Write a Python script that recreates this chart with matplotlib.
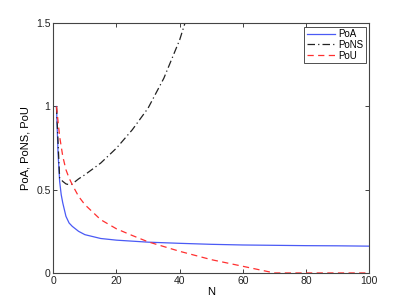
import matplotlib
matplotlib.use("Agg")
import matplotlib.pyplot as plt
from matplotlib.ticker import FixedLocator, FixedFormatter

plt.rcParams['font.family'] = ['Liberation Sans', 'DejaVu Sans']

poa_n = [1, 1.5, 2, 2.5, 3, 4, 5, 6, 8, 10, 15, 20, 30, 40, 50, 60, 70, 80, 90, 100]
poa_v = [1.0, 0.72, 0.55, 0.47, 0.42, 0.34, 0.30, 0.28, 0.25, 0.23, 0.207, 0.197, 0.185, 0.178, 0.172, 0.168, 0.166, 0.164, 0.163, 0.161]

pons_n = [1, 2, 3, 4, 5, 6, 7, 8, 10, 15, 20, 25, 30, 35, 40, 43]
pons_v = [1.0, 0.57, 0.55, 0.535, 0.53, 0.535, 0.55, 0.565, 0.59, 0.66, 0.75, 0.86, 0.99, 1.17, 1.40, 1.58]

pou_n = [1, 2, 3, 4, 5, 6, 8, 10, 15, 20, 25, 30, 40, 50, 60, 70, 80, 90, 100]
pou_v = [1.0, 0.82, 0.70, 0.62, 0.57, 0.53, 0.46, 0.41, 0.32, 0.265, 0.225, 0.187, 0.13, 0.08, 0.04, 0.0, 0.0, 0.0, 0.0]

x_ticks = [0, 20, 40, 60, 80, 100]
y_ticks = [0, 0.5, 1, 1.5]
y_tick_labels = ["0", "0.5", "1", "1.5"]

fig = plt.figure(figsize=(4.07, 3.06), dpi=100)
ax = fig.add_axes([0.131, 0.108, 0.776, 0.816])

ax.plot(poa_n, poa_v, color='#4a5af5', lw=0.9, label='PoA')
ax.plot(pons_n, pons_v, color='#222222', lw=0.9, ls=(0, (6, 2.5, 1, 2.5)), label='PoNS')
ax.plot(pou_n, pou_v, color='#ff3030', lw=0.9, ls=(0, (5, 3.5)), label='PoU')

ax.set_xlim(0, 100)
ax.set_ylim(0, 1.5)
ax.xaxis.set_major_locator(FixedLocator(x_ticks))
ax.yaxis.set_major_locator(FixedLocator(y_ticks))
ax.yaxis.set_major_formatter(FixedFormatter(y_tick_labels))
ax.tick_params(direction='in', top=True, right=True, length=3, width=0.6, labelsize=7.5, pad=2, colors='#222222')
for s in ax.spines.values():
    s.set_color('#444444')
    s.set_linewidth(0.8)
ax.set_xlabel('N', fontsize=8, labelpad=1)
ax.set_ylabel('PoA, PoNS, PoU', fontsize=8, labelpad=4)

leg = ax.legend(loc='upper right', fontsize=7, handlelength=2.9, borderpad=0.25,
                labelspacing=0.08, handletextpad=0.35, borderaxespad=0.35, fancybox=False)
leg.get_frame().set_edgecolor('#222222')
leg.get_frame().set_linewidth(0.7)

fig.savefig('out.png', dpi=100)
